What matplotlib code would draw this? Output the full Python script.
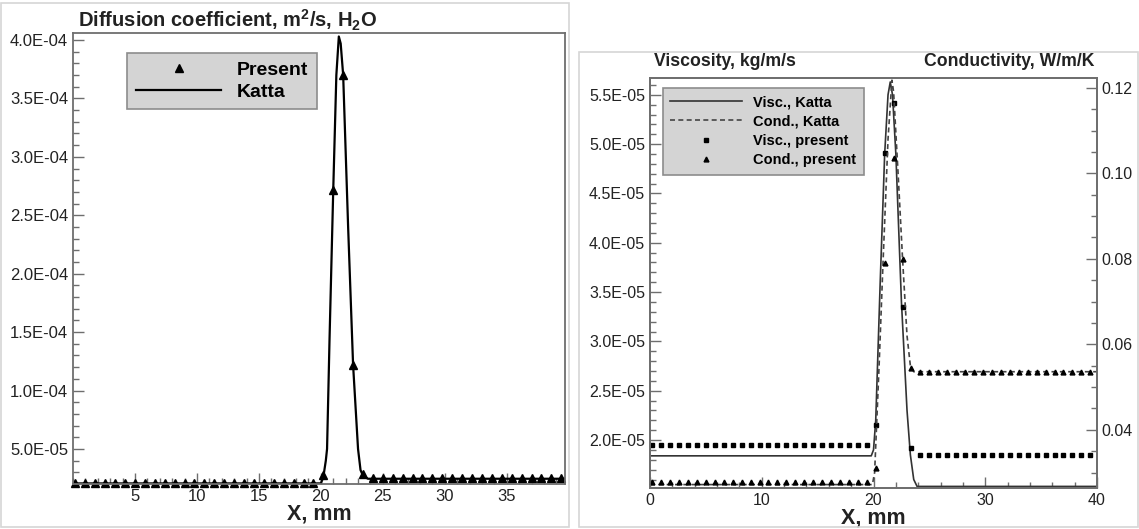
import matplotlib
matplotlib.use('Agg')
import matplotlib.pyplot as plt
from matplotlib.patches import Rectangle
from matplotlib.lines import Line2D
from matplotlib.ticker import MultipleLocator, FixedLocator, FormatStrFormatter

plt.rcParams['font.family'] = ['Liberation Sans', 'DejaVu Sans']
plt.rcParams['mathtext.fontset'] = 'custom'
plt.rcParams['mathtext.rm'] = 'Liberation Sans'
plt.rcParams['mathtext.bf'] = 'Liberation Sans:bold'

# positions of the "present" points, mm
x_pts = [0.2, 1.0, 1.8, 2.6, 3.4, 4.2, 5.0, 5.8, 6.6, 7.4, 8.2, 9.0, 9.8,
         10.6, 11.4, 12.2, 13.0, 13.8, 14.6, 15.4, 16.2, 17.0, 17.8, 18.6, 19.4,
         20.2, 21.0, 21.8, 22.6, 23.4,
         24.2, 25.0, 25.8, 26.6, 27.4, 28.2, 29.0, 29.8, 30.6, 31.4, 32.2, 33.0,
         33.8, 34.6, 35.4, 36.2, 37.0, 37.8, 38.6, 39.4]

# left panel: diffusion coefficient of H2O
diff_present = [2.1e-5] * 25 + [2.8e-5, 2.72e-4, 3.7e-4, 1.22e-4, 2.85e-5] + [2.5e-5] * 20
diff_katta_x = [0.0, 20.0, 20.2, 20.4, 20.5, 20.7, 21.0, 21.25, 21.45, 21.6, 21.8,
                22.2, 22.6, 23.0, 23.2, 23.4, 23.8, 39.7]
diff_katta_y = [2.05e-5, 2.05e-5, 2.6e-5, 4.0e-5, 5.0e-5, 1.44e-4, 2.72e-4, 3.7e-4,
                4.03e-4, 3.97e-4, 3.7e-4, 2.4e-4, 1.22e-4, 5.0e-5, 3.2e-5, 2.7e-5,
                2.45e-5, 2.45e-5]

# right panel: viscosity and conductivity
visc_present = [1.95e-5] * 25 + [2.15e-5, 4.91e-5, 5.42e-5, 3.35e-5, 1.92e-5] + [1.85e-5] * 20
cond_present = [0.0278] * 25 + [0.031, 0.079, 0.1035, 0.080, 0.0545] + [0.0536] * 20
visc_katta_x = [0.0, 19.8, 20.0, 20.2, 20.6, 21.0, 21.3, 21.5, 21.7, 22.0, 22.5,
                23.0, 23.3, 23.6, 23.9, 40.0]
visc_katta_y = [1.84e-5, 1.84e-5, 1.9e-5, 2.2e-5, 3.6e-5, 4.9e-5, 5.5e-5, 5.63e-5,
                5.5e-5, 4.9e-5, 3.4e-5, 2.3e-5, 1.85e-5, 1.6e-5, 1.53e-5, 1.53e-5]
cond_katta_x = [0.0, 19.9, 20.1, 20.5, 20.85, 21.3, 21.65, 21.8, 22.2, 22.6, 23.0,
                23.3, 23.6, 40.0]
cond_katta_y = [0.0272, 0.0272, 0.030, 0.055, 0.079, 0.108, 0.1218, 0.119, 0.100,
                0.080, 0.062, 0.055, 0.0536, 0.0536]

W, H = 1139, 529
fig = plt.figure(figsize=(W / 100, H / 100), dpi=100)

spine_c = '#6e6e6e'
text_c = '#222222'

def px_axes(l, t, r, b):
    return [l / W, 1 - b / H, (r - l) / W, (b - t) / H]

# grey frames around the two panels
fig.patches.append(Rectangle((1 / W, 1 - 527 / H), 568 / W, 524 / H, transform=fig.transFigure,
                             fill=False, ec='#d6d6d6', lw=1.2))
fig.patches.append(Rectangle((579 / W, 1 - 527 / H), 559 / W, 475 / H, transform=fig.transFigure,
                             fill=False, ec='#d6d6d6', lw=1.2))

def style(ax, lsize):
    for s in ax.spines.values():
        s.set_color(spine_c)
        s.set_linewidth(1.3)
    ax.tick_params(which='both', direction='in', colors=spine_c, labelcolor=text_c,
                   labelsize=lsize, top=False, right=False)
    ax.tick_params(which='major', length=8, width=1)
    ax.tick_params(which='minor', length=4, width=1)

# ---- left panel
ax1 = fig.add_axes(px_axes(73, 33, 565, 484))
ax1.plot(diff_katta_x, diff_katta_y, color='black', lw=1.6)
ax1.plot(x_pts, diff_present, ls='none', marker='^', ms=5.5, color='black', clip_on=False)
ax1.set_xlim(0, 39.7)
ax1.set_ylim(2.0e-5, 4.06e-4)
ax1.xaxis.set_major_locator(FixedLocator([5, 10, 15, 20, 25, 30, 35]))
ax1.xaxis.set_minor_locator(MultipleLocator(1))
ax1.yaxis.set_major_locator(MultipleLocator(5e-5))
ax1.yaxis.set_minor_locator(MultipleLocator(1e-5))
ax1.yaxis.set_major_formatter(FormatStrFormatter('%.1E'))
style(ax1, 12)
ax1.set_xlabel('X, mm', fontsize=15.5, fontweight='bold', labelpad=0, color=text_c)
ax1.text(0.01, 1.0, r'Diffusion coefficient, m$^{\bf 2}$/s, H$_{\bf 2}$O', transform=ax1.transAxes,
         fontsize=14.5, fontweight='bold', ha='left', va='bottom', color=text_c)
h1 = [Line2D([], [], ls='none', marker='^', ms=5.5, color='black'),
      Line2D([], [], color='black', lw=1.6)]
leg1 = ax1.legend(h1, ['Present', 'Katta'], loc='upper left', bbox_to_anchor=(0.11, 0.956),
                  borderaxespad=0, prop={'weight': 'bold', 'size': 14}, handlelength=4.4,
                  handletextpad=0.77, labelspacing=0.2, borderpad=0.45, fancybox=False,
                  framealpha=1, facecolor='#d4d4d4', edgecolor='#8c8c8c')
leg1.get_frame().set_linewidth(1.2)

# ---- right panel
ax2 = fig.add_axes(px_axes(650, 78, 1097, 488))
ax3 = ax2.twinx()
l1, = ax2.plot(visc_katta_x, visc_katta_y, color='#333333', lw=1.2)
l3, = ax2.plot(x_pts, visc_present, ls='none', marker='s', ms=3.2, color='black', clip_on=False)
l2, = ax3.plot(cond_katta_x, cond_katta_y, color='#444444', lw=1.2, ls=(0, (3, 2)))
l4, = ax3.plot(x_pts, cond_present, ls='none', marker='^', ms=3.5, color='black', clip_on=False)
ax2.set_xlim(0, 40)
ax2.set_ylim(1.514e-5, 5.67e-5)
ax3.set_ylim(0.0264, 0.1223)
ax2.xaxis.set_major_locator(MultipleLocator(10))
ax2.xaxis.set_minor_locator(MultipleLocator(2))
ax2.yaxis.set_major_locator(FixedLocator([2.0e-5, 2.5e-5, 3.0e-5, 3.5e-5, 4.0e-5, 4.5e-5, 5.0e-5, 5.5e-5]))
ax2.yaxis.set_minor_locator(MultipleLocator(1e-6))
ax2.yaxis.set_major_formatter(FormatStrFormatter('%.1E'))
ax3.yaxis.set_major_locator(FixedLocator([0.04, 0.06, 0.08, 0.10, 0.12]))
ax3.yaxis.set_minor_locator(MultipleLocator(0.005))
ax3.yaxis.set_major_formatter(FormatStrFormatter('%.2f'))
style(ax2, 11.5)
style(ax3, 11.5)
ax3.tick_params(which='both', left=False, right=True, labelleft=False, labelright=True)
ax2.set_xlabel('X, mm', fontsize=15.5, fontweight='bold', labelpad=0, color=text_c)
ax2.text(0.01, 1.02, 'Viscosity, kg/m/s', transform=ax2.transAxes, fontsize=12.7,
         fontweight='bold', ha='left', va='bottom', color=text_c)
ax2.text(0.995, 1.02, 'Conductivity, W/m/K', transform=ax2.transAxes, fontsize=12.7,
         fontweight='bold', ha='right', va='bottom', color=text_c)
leg2 = ax3.legend([l1, l2, l3, l4], ['Visc., Katta', 'Cond., Katta', 'Visc., present', 'Cond., present'],
                  loc='upper left', bbox_to_anchor=(0.029, 0.976), borderaxespad=0,
                  prop={'weight': 'bold', 'size': 10.5}, handlelength=4.9, handletextpad=0.8,
                  labelspacing=0.37, borderpad=0.5, fancybox=False, framealpha=1,
                  facecolor='#d4d4d4', edgecolor='#8c8c8c')
leg2.get_frame().set_linewidth(1.2)

fig.savefig('out.png', dpi=100)
